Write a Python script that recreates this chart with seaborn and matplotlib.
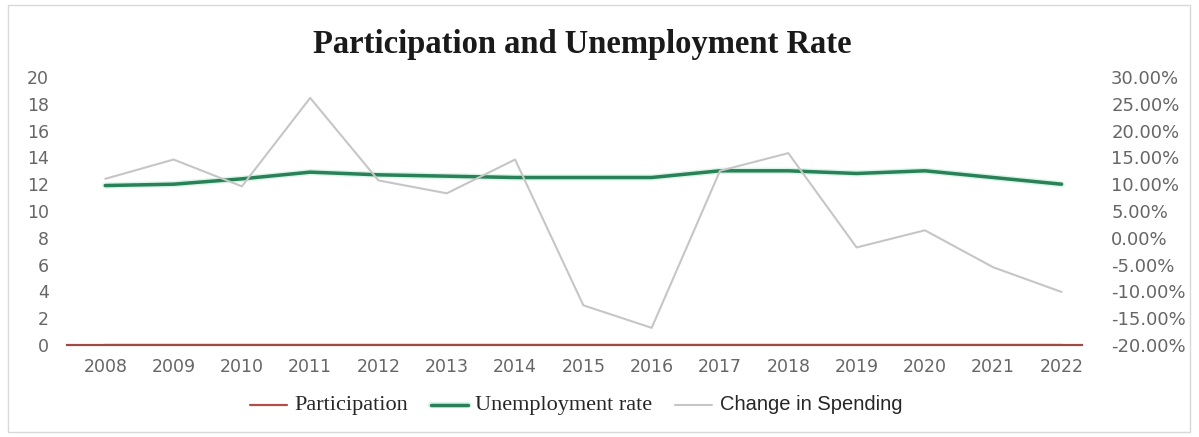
import matplotlib
matplotlib.use("Agg")
import matplotlib.pyplot as plt
import matplotlib.patheffects as pe
from matplotlib.ticker import FuncFormatter
from matplotlib.patches import Rectangle
import seaborn as sns
import pandas as pd

# Yearly series
years = [2008, 2009, 2010, 2011, 2012, 2013, 2014, 2015,
         2016, 2017, 2018, 2019, 2020, 2021, 2022]
participation = [0.0, 0.0, 0.0, 0.0, 0.0, 0.0, 0.0, 0.0,
                 0.0, 0.0, 0.0, 0.0, 0.0, 0.0, 0.0]
unemployment_rate = [11.9, 12.0, 12.4, 12.9, 12.7, 12.6, 12.5, 12.5,
                     12.5, 13.0, 13.0, 12.8, 13.0, 12.5, 12.0]
change_in_spending = [11.0, 14.6, 9.6, 26.1, 10.7, 8.3, 14.6, -12.6,
                      -16.8, 12.5, 15.8, -1.8, 1.4, -5.5, -10.1]  # percent

left_ticks = [0, 2, 4, 6, 8, 10, 12, 14, 16, 18, 20]
right_ticks = [-20, -15, -10, -5, 0, 5, 10, 15, 20, 25, 30]
year_labels = [str(y) for y in years]

title = "Participation and Unemployment Rate"
series_names = ["Participation", "Unemployment rate", "Change in Spending"]

df = pd.DataFrame({
    "year": years,
    "participation": participation,
    "unemployment": unemployment_rate,
    "spending": change_in_spending,
})

sns.set_theme(style="white")
plt.rcParams["font.family"] = ["DejaVu Sans"]

W, H = 1199, 437
fig = plt.figure(figsize=(W / 100, H / 100), dpi=100)
fig.patch.set_facecolor("white")

ax = fig.add_axes([67 / W, 1 - 345 / H, (1082 - 67) / W, (345 - 77) / H])

red = "#b0504b"
green = "#2a8057"
gray = "#c6c6c6"
tick_color = "#666666"

sns.lineplot(data=df, x="year", y="participation", ax=ax, color=red,
             linewidth=1.6, label=series_names[0], legend=False)
sns.lineplot(data=df, x="year", y="unemployment", ax=ax, color=green,
             linewidth=2.5, label=series_names[1], legend=False)
ax.lines[-1].set_path_effects([pe.Stroke(linewidth=4.5, foreground="#d6f5e6"),
                               pe.Normal()])

ax.set_xlim(2007.44, 2022.30)
ax.set_ylim(0, 20)
ax.set_xticks(years)
ax.set_xticklabels(year_labels)
ax.set_yticks(left_ticks)
ax.set_xlabel("")
ax.set_ylabel("")
ax.tick_params(axis="x", length=0, pad=9, labelsize=12.5, labelcolor=tick_color)
ax.tick_params(axis="y", length=0, pad=13, labelsize=12.5, labelcolor=tick_color)
for side in ["top", "left", "right"]:
    ax.spines[side].set_visible(False)
ax.spines["bottom"].set_color("#a04a46")
ax.spines["bottom"].set_linewidth(1.6)

ax2 = ax.twinx()
sns.lineplot(data=df, x="year", y="spending", ax=ax2, color=gray,
             linewidth=1.5, label=series_names[2], legend=False)
ax2.set_ylim(-20, 30)
ax2.set_yticks(right_ticks)
ax2.yaxis.set_major_formatter(FuncFormatter(lambda v, _: f"{v:.2f}%"))
ax2.set_ylabel("")
ax2.tick_params(axis="y", length=0, pad=21, labelsize=13, labelcolor=tick_color)
for lab in ax2.get_yticklabels():
    lab.set_horizontalalignment("left")
for side in ["top", "left", "right", "bottom"]:
    ax2.spines[side].set_visible(False)

fig.text(582 / W, 1 - 45 / H, title, ha="center", va="center",
         fontfamily="Liberation Serif", fontweight="bold", fontsize=23.5,
         color="#1a1a1a")

handles = [ax.lines[0], ax.lines[1], ax2.lines[0]]
leg = fig.legend(handles, series_names, loc="center",
                 bbox_to_anchor=(576 / W, 1 - 405 / H), ncol=3, frameon=False,
                 handlelength=2.4, handletextpad=0.5, columnspacing=1.5)
for txt, fam, size in zip(leg.get_texts(),
                          ["Liberation Serif", "Liberation Serif", "Liberation Sans"],
                          [16, 16, 14.5]):
    txt.set_fontfamily(fam)
    txt.set_fontsize(size)
    txt.set_color("#262626")

fig.add_artist(Rectangle((8 / W, 5 / H), (1190 - 8) / W, (432 - 5) / H,
                         transform=fig.transFigure, fill=False,
                         edgecolor="#d9d9d9", linewidth=1))

fig.savefig("out.png", dpi=100, facecolor="white")
